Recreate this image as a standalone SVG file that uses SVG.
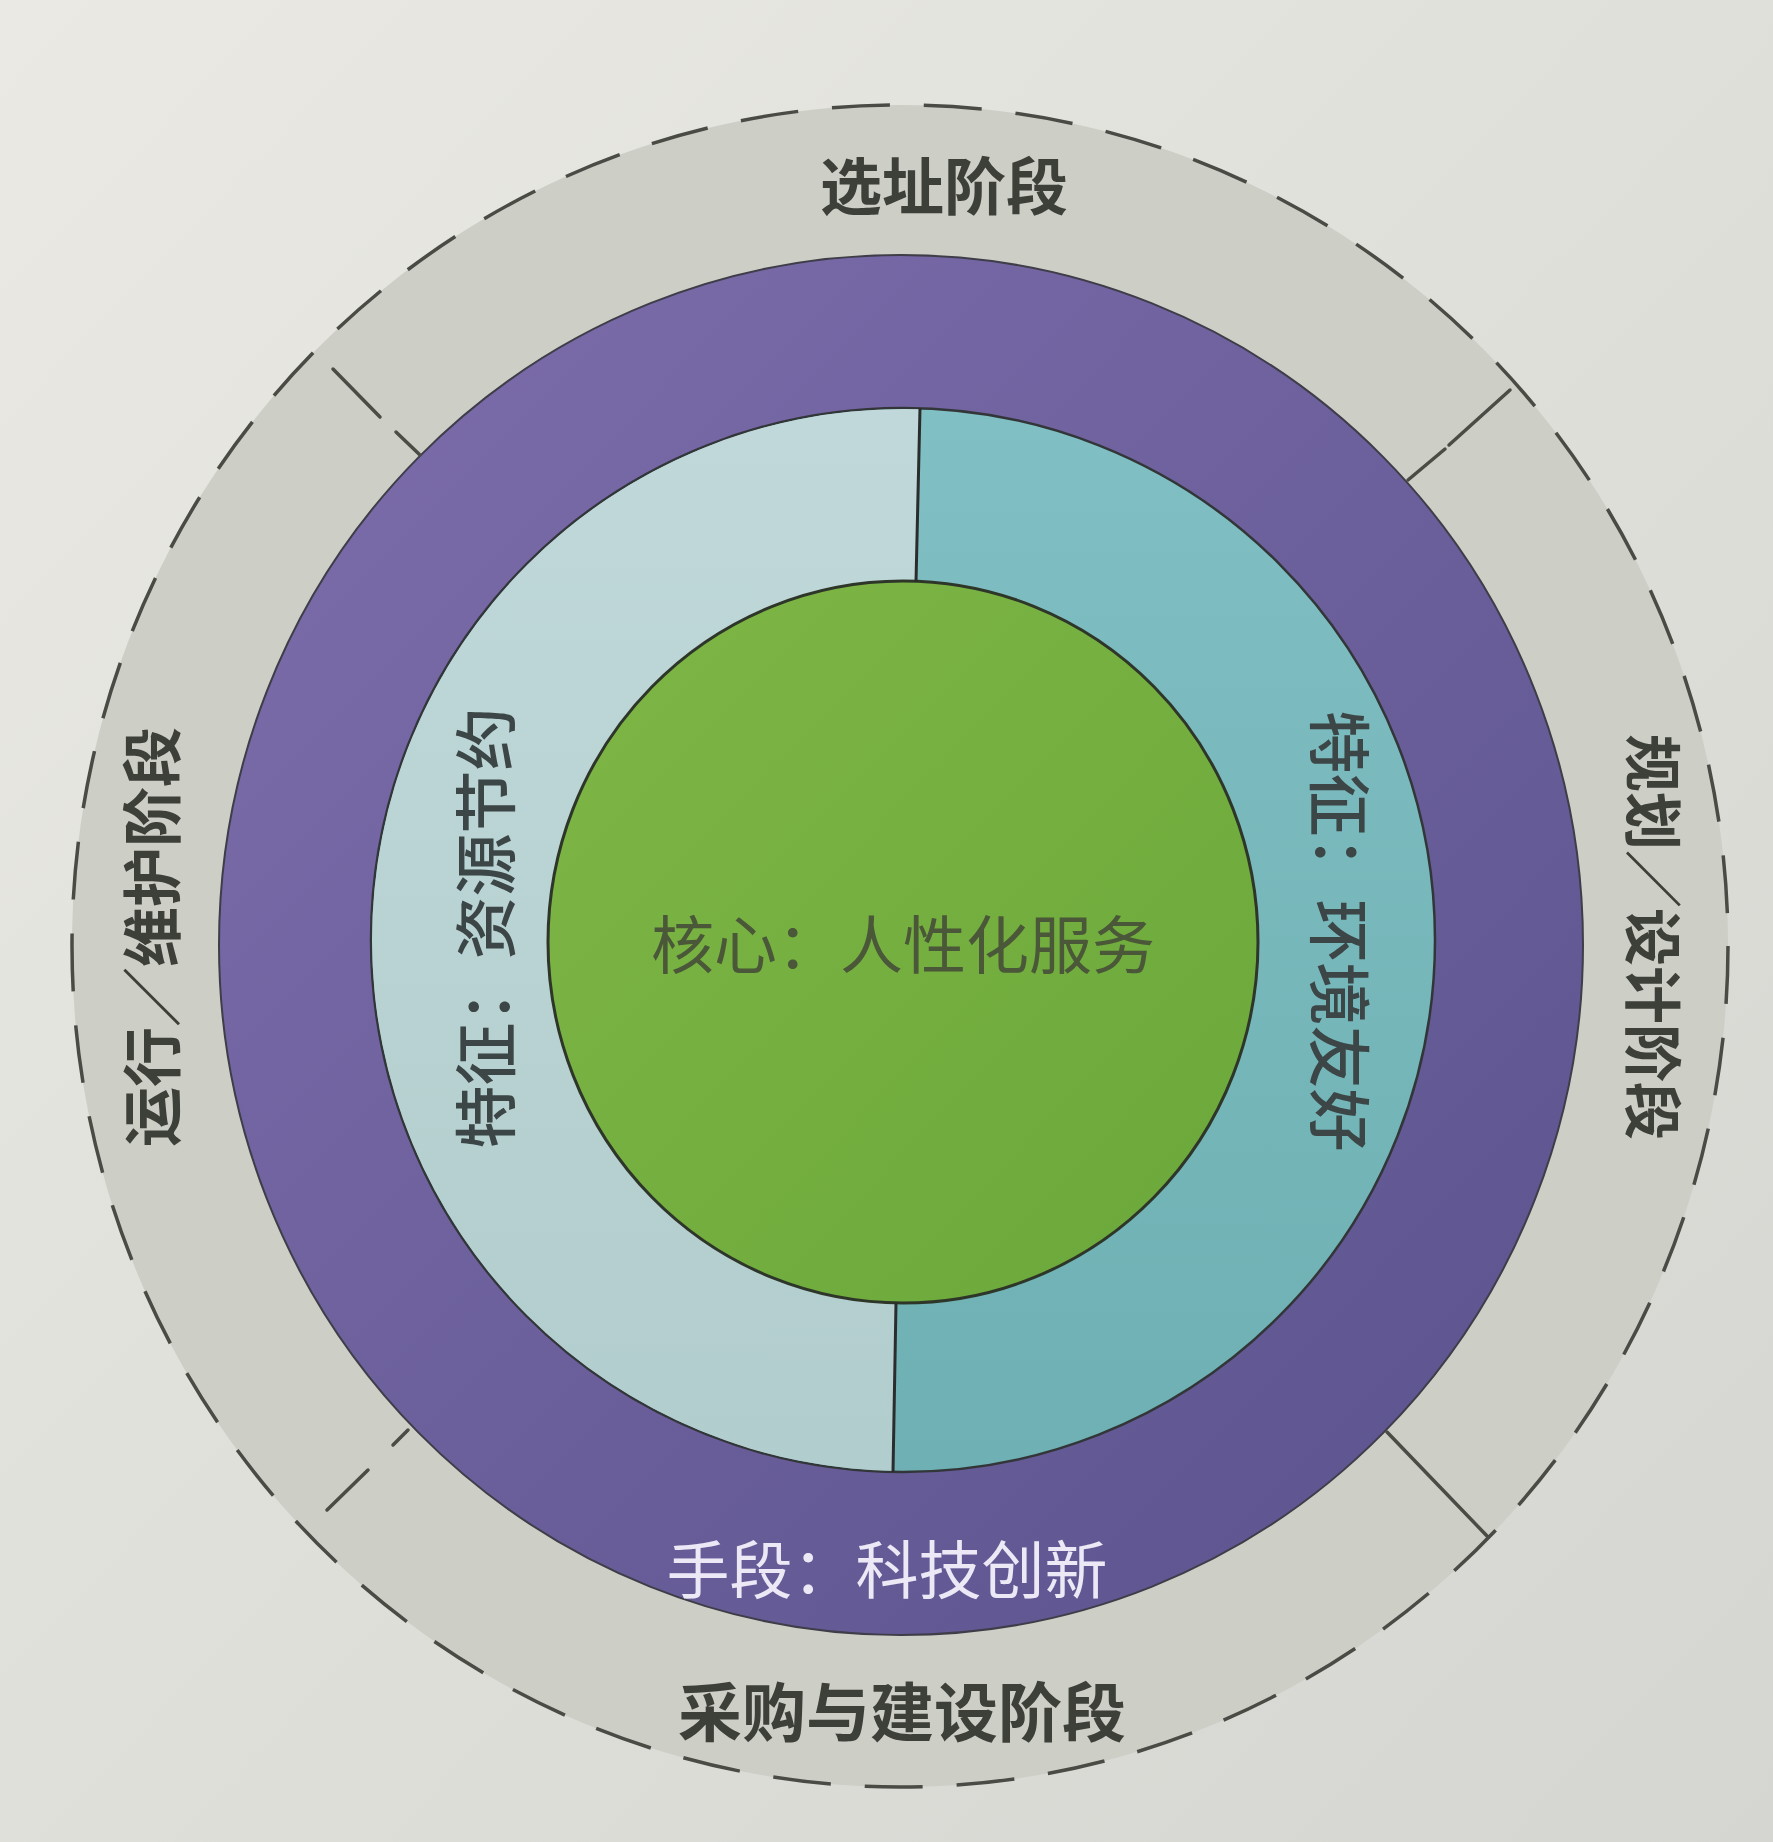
<svg xmlns="http://www.w3.org/2000/svg" width="1773" height="1842" viewBox="0 0 1773 1842">
<defs>
<linearGradient id="bg" x1="0" y1="0" x2="1" y2="1">
<stop offset="0" stop-color="#eae9e4"/>
<stop offset="1" stop-color="#d5d6d1"/>
</linearGradient>
<linearGradient id="purple" x1="0" y1="0" x2="1" y2="1">
<stop offset="0" stop-color="#7e6dac"/>
<stop offset="1" stop-color="#5a538d"/>
</linearGradient>
<linearGradient id="light" x1="0" y1="0" x2="0" y2="1">
<stop offset="0" stop-color="#c0d8d9"/>
<stop offset="1" stop-color="#b2cdcd"/>
</linearGradient>
<linearGradient id="teal" x1="0" y1="0" x2="0" y2="1">
<stop offset="0" stop-color="#80bfc3"/>
<stop offset="1" stop-color="#6eb0b3"/>
</linearGradient>
<linearGradient id="green" x1="0" y1="0" x2="1" y2="1">
<stop offset="0" stop-color="#7fb746"/>
<stop offset="1" stop-color="#6aa73a"/>
</linearGradient>
<clipPath id="leftHalf">
<polygon points="0,0 921,0 920,408 916,582 896,1302 893,1472 893,1842 0,1842"/>
</clipPath>
<style>
.lbl{font-family:"Noto Sans CJK SC","Noto Sans",sans-serif;dominant-baseline:central;text-anchor:middle}
.phase{font-weight:700;fill:#3d3f39}
.feat{font-weight:500;fill:#3c4646}
.core{font-weight:400;fill:#4a5738}
.means{font-weight:400;fill:#ece8f6}
.div{stroke:#4a4c45;stroke-width:3.5;stroke-linecap:round;fill:none}
</style>
</defs>
<rect x="0" y="0" width="1773" height="1842" fill="url(#bg)"/>

<g id="phase-ring">
<ellipse cx="900" cy="946" rx="828" ry="841" fill="#cdcec6" stroke="#4a4b45" stroke-width="3.5" stroke-dasharray="58 34"/>
<text class="lbl phase" x="944" y="183" font-size="62">选址阶段</text>
<text class="lbl phase" x="902" y="1708" font-size="64">采购与建设阶段</text>
<text class="lbl phase" font-size="60" transform="translate(148 937) rotate(-90)">运行／维护阶段</text>
<text class="lbl phase" font-size="58" transform="translate(1656 937) rotate(90)">规划／设计阶段</text>
</g>

<g id="means-ring">
<ellipse cx="901" cy="945" rx="682" ry="690" fill="url(#purple)" stroke="#3e3d48" stroke-width="2"/>
<text class="lbl means" x="887" y="1565" font-size="63">手段：科技创新</text>
</g>

<g id="feature-ring">
<circle cx="903" cy="940" r="532" fill="url(#teal)" stroke="#333638" stroke-width="2.5"/>
<circle cx="903" cy="940" r="531" fill="url(#light)" clip-path="url(#leftHalf)"/>
<text class="lbl feat" font-size="63" transform="translate(481 928) rotate(-90)">特征：资源节约</text>
<text class="lbl feat" font-size="63" transform="translate(1343 931) rotate(90)">特征：环境友好</text>
</g>

<g id="core">
<ellipse cx="903" cy="942" rx="355" ry="361" fill="url(#green)" stroke="#2e3629" stroke-width="3"/>
<text class="lbl core" x="903" y="940" font-size="63">核心：人性化服务</text>
</g>

<g id="connectors">
<line x1="920" y1="408" x2="916" y2="582" stroke="#2a2d2c" stroke-width="3"/>
<line x1="896" y1="1303" x2="893" y2="1472" stroke="#2a2d2c" stroke-width="3"/>
<path class="div" d="M333 369 L380 417 M396 432 L420 455"/>
<path class="div" d="M1510 390 L1449 445 M1445 449 L1408 480"/>
<path class="div" d="M408 1430 L393 1445 M368 1470 L327 1510"/>
<path class="div" d="M1387 1432 L1488 1537"/>
</g>
</svg>
